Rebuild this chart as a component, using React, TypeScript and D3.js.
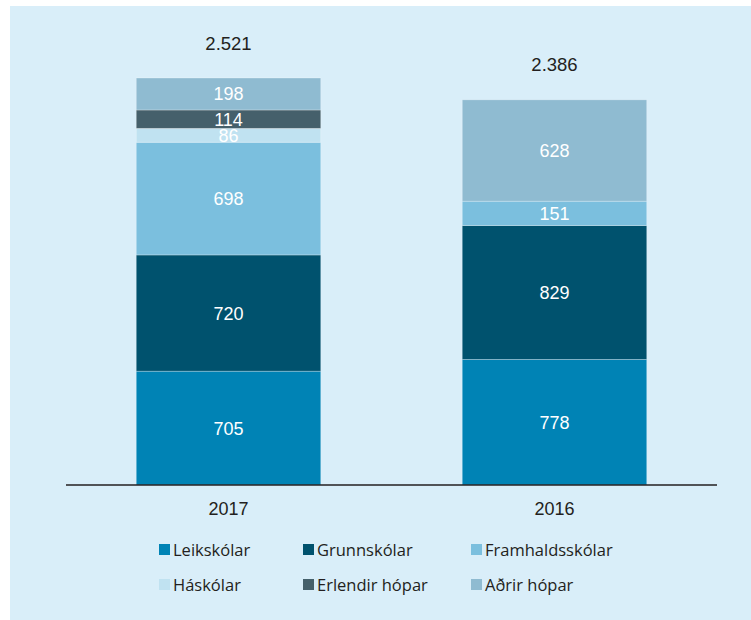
import React from "react";
import * as d3 from "d3";

const years = ["2017", "2016"];
const seriesNames = [
  "Leikskólar",
  "Grunnskólar",
  "Framhaldsskólar",
  "Háskólar",
  "Erlendir hópar",
  "Aðrir hópar",
];
const leikskolar = [705, 778];
const grunnskolar = [720, 829];
const framhaldsskolar = [698, 151];
const haskolar = [86, 0];
const erlendir = [114, 0];
const adrir = [198, 628];
const totalLabels = ["2.521", "2.386"];
const colors = ["#0083b5", "#00526e", "#7bbfde", "#c0e2f1", "#45606b", "#8fbbd1"];

const W = 751;
const H = 620;
const BG = "#d9eef9";
const TEXT = "#231f20";

export default function App() {
  const seriesValues = [leikskolar, grunnskolar, framhaldsskolar, haskolar, erlendir, adrir];
  const table = years.map((y, i) => {
    const row: Record<string, any> = { year: y };
    seriesNames.forEach((s, k) => (row[s] = seriesValues[k][i]));
    return row;
  });
  const stacked = d3.stack<any>().keys(seriesNames)(table);

  const x = d3
    .scaleBand<string>()
    .domain(years)
    .range([66, 717])
    .paddingInner(0.434)
    .paddingOuter(0.2155);
  const y = d3.scaleLinear().domain([0, 2800]).range([485, 485 - 2800 * 0.16144]);

  const totals = years.map((_, i) => d3.sum(seriesValues, (s) => s[i]));

  const legendCols = [159, 303, 471];
  const legendRows = [544, 579];

  return (
    <svg
      width={W}
      height={H}
      style={{ position: "absolute", left: 0, top: 0 }}
      xmlns="http://www.w3.org/2000/svg"
    >
      <rect x={0} y={0} width={W} height={H} fill="#ffffff" />
      <rect x={10} y={6} width={W - 10} height={H - 6} fill={BG} />
      {stacked.map((layer, k) => (
        <g key={layer.key}>
          {layer.map((d, i) => {
            const h = y(d[0]) - y(d[1]);
            if (h <= 0) return null;
            return (
              <rect
                key={i}
                x={x(years[i])}
                y={y(d[1])}
                width={x.bandwidth()}
                height={h}
                fill={colors[k]}
                stroke="#ffffff"
                strokeOpacity={0.35}
                strokeWidth={0.8}
              />
            );
          })}
        </g>
      ))}
      {stacked.map((layer) =>
        layer.map((d, i) => {
          const v = d[1] - d[0];
          if (v <= 0) return null;
          return (
            <text
              key={layer.key + i}
              x={(x(years[i]) as number) + x.bandwidth() / 2}
              y={(y(d[0]) + y(d[1])) / 2}
              dy="0.36em"
              textAnchor="middle"
              fill="#ffffff"
              fontFamily="'Liberation Sans', Arial, sans-serif"
              fontSize={18}
            >
              {v}
            </text>
          );
        })
      )}
      {years.map((yr, i) => (
        <text
          key={"t" + yr}
          x={(x(yr) as number) + x.bandwidth() / 2}
          y={y(totals[i]) - 35}
          dy="0.36em"
          textAnchor="middle"
          fill={TEXT}
          fontFamily="'Liberation Sans', Arial, sans-serif"
          fontSize={18.5}
        >
          {totalLabels[i]}
        </text>
      ))}
      <line x1={66} x2={717} y1={y(0)} y2={y(0)} stroke={TEXT} strokeWidth={1.5} />
      {years.map((yr) => (
        <text
          key={"a" + yr}
          x={(x(yr) as number) + x.bandwidth() / 2}
          y={509}
          dy="0.36em"
          textAnchor="middle"
          fill={TEXT}
          fontFamily="'Liberation Sans', Arial, sans-serif"
          fontSize={18}
        >
          {yr}
        </text>
      ))}
      {seriesNames.map((s, k) => {
        const cx = legendCols[k % 3];
        const cy = legendRows[Math.floor(k / 3)];
        return (
          <g key={"l" + s}>
            <rect x={cx} y={cy} width={11} height={11} fill={colors[k]} />
            <text
              x={cx + 14}
              y={cy + 11.5}
              fill={TEXT}
              fontFamily="'Open Sans', sans-serif"
              fontSize={16.5}
            >
              {s}
            </text>
          </g>
        );
      })}
    </svg>
  );
}
